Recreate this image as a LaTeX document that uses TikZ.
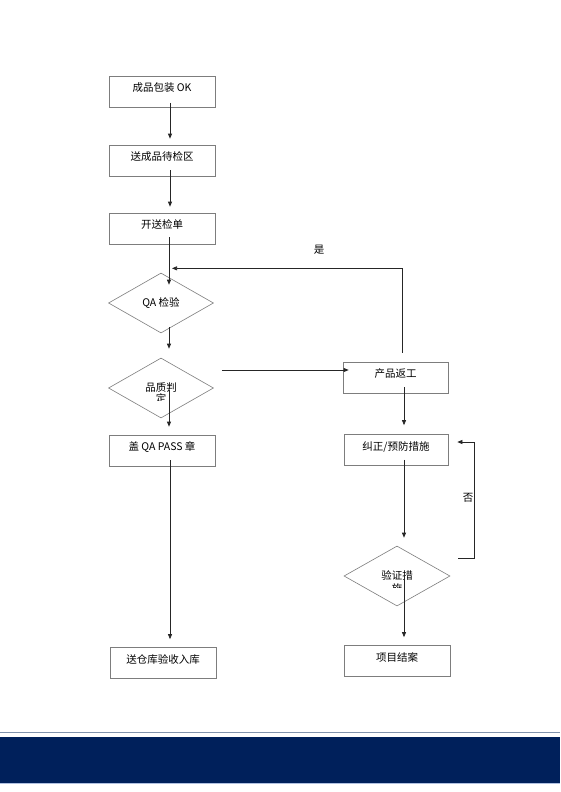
\documentclass[tikz,border=0pt]{standalone}
\usepackage{fontspec}
\setmainfont{Noto Sans CJK SC}
\usetikzlibrary{shapes.geometric,arrows.meta,calc}
\definecolor{boxgray}{RGB}{125,125,125}
\definecolor{navyband}{RGB}{0,32,91}
\definecolor{rulegray}{RGB}{128,146,172}
\definecolor{lightrule}{RGB}{176,192,224}
\begin{document}
\begin{tikzpicture}[x=1pt,y=-1pt,
  every node/.style={font=\fontsize{10.5}{12}\selectfont},
  box/.style={draw=boxgray,line width=0.7pt,minimum width=106pt,minimum height=31pt,inner sep=0pt,text height=9pt,text depth=9pt},
  dia/.style={diamond,draw=boxgray,line width=0.6pt,minimum width=105pt,minimum height=60pt,inner sep=0pt},
  conn/.style={line width=0.7pt,draw=black!85,-{Triangle[length=5pt,width=4pt]}}]
\useasboundingbox (0,0) rectangle (560,792);
\fill[white] (0,0) rectangle (560,792);
% left column
\node[box] (b1) at (162,92) {成品包装 OK};
\node[box] (b2) at (162,160.5) {送成品待检区};
\node[box] (b3) at (162,228.5) {开送检单};
\node[dia] (d1) at (161,303) {QA 检验};
\node[dia,text height=9pt,text depth=3pt] (d2) at (161,388) {品质判};
\begin{scope}
  \clip (140,390) rectangle (185,400);
  \node (d2b) at (161,398.5) {定};
\end{scope}
\node[box] (b4) at (162,450.5) {盖 QA PASS 章};
\node[box] (b5) at (163,663) {送仓库验收入库};
% right column
\node[box,minimum width=105pt] (r1) at (395.5,377.5) {产品返工};
\node[box,minimum width=104pt] (r2) at (396,450) {纠正/预防措施};
\node[dia,minimum width=106pt,text height=9pt,text depth=3pt] (d3) at (397,576) {验证措};
\begin{scope}
  \clip (370,578) rectangle (425,587.5);
  \node (d3b) at (397,588.5) {施};
\end{scope}
\node[box] (r3) at (397,661) {项目结案};
% labels
\node (yes) at (319,250) {是};
\node (no) at (468,498) {否};
% connectors
\draw[conn] ($(b1.south)+(8,-5)$) -- ($(b2.north)+(8,-6)$);
\draw[conn] ($(b2.south)+(8,-6)$) -- ($(b3.north)+(8,-6)$);
\draw[conn] ($(b3.south)+(7,-7)$) -- ($(d1.north)+(8,12)$);
\draw[conn] ($(d1.south)+(8,-6)$) -- ($(d2.north)+(8,-9)$);
\draw[conn] ($(d2.center)+(8,2)$) -- ($(b4.north)+(7,-8)$);
\draw[conn] ($(b4.south)+(8,-6)$) -- ($(b5.north)+(7,-8)$);
\draw[conn] ($(d2.east)+(8,-18)$) -- ($(r1.west)+(6,-7.5)$);
\draw[conn] ($(r1.north)+(7,-9)$) |- ($(b3.south)+(10,24)$);
\draw[conn] ($(r1.south)+(8.5,-6)$) -- ($(r2.north)+(8,-9)$);
\draw[conn] ($(r2.south)+(8,-6)$) -- ($(d3.north)+(7,-8)$);
\draw[conn] ($(d3.center)+(7,-1)$) -- ($(r3.north)+(7,-8)$);
\draw[conn] ($(d3.east)+(8,-18)$) -- ++(16,0) |- ($(r2.east)+(9,-8)$);
% footer
\fill[rulegray] (0,731.6) rectangle (560,732.8);
\fill[navyband] (0,737) rectangle (560,783);
\fill[lightrule] (0,783) rectangle (560,784);
\end{tikzpicture}
\end{document}
